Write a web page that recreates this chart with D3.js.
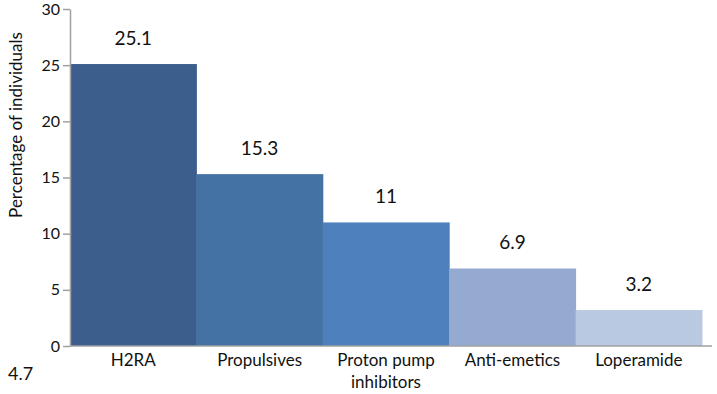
<!DOCTYPE html>
<html>
<head>
<meta charset="utf-8">
<script src="https://cdn.jsdelivr.net/npm/d3@7"></script>
<style>
  html, body { margin: 0; padding: 0; background: #fff; }
  svg { display: block; font-family: Lato, "Open Sans", sans-serif; }
</style>
</head>
<body>
<svg id="chart" width="717" height="394"></svg>
<script>
const categories = ["H2RA", "Propulsives", "Proton pump inhibitors", "Anti-emetics", "Loperamide"];
const categoryLines = [["H2RA"], ["Propulsives"], ["Proton pump", "inhibitors"], ["Anti-emetics"], ["Loperamide"]];
const values = [25.1, 15.3, 11, 6.9, 3.2];
const valueLabels = ["25.1", "15.3", "11", "6.9", "3.2"];
const barColors = ["#3b5e8c", "#4572a5", "#4e80bd", "#95aad1", "#bac9e2"];
const yTicks = [0, 5, 10, 15, 20, 25, 30];
const yTitle = "Percentage of individuals";
const footnote = "4.7";

const svg = d3.select("#chart");
const plotLeft = 70, plotRight = 702, plotTop = 9, plotBottom = 346;

const x = d3.scaleBand().domain(categories).range([plotLeft, plotRight]).padding(0);
const y = d3.scaleLinear().domain([0, 30]).range([plotBottom, plotTop]);

// bars
svg.append("g").selectAll("rect").data(values).join("rect")
  .attr("x", (d, i) => x(categories[i]))
  .attr("width", x.bandwidth() + 0.5)
  .attr("y", d => y(d))
  .attr("height", d => y(0) - y(d))
  .attr("fill", (d, i) => barColors[i]);

// value labels
svg.append("g").selectAll("text").data(values).join("text")
  .attr("x", (d, i) => x(categories[i]) + x.bandwidth() / 2)
  .attr("y", d => y(d) - 19)
  .attr("text-anchor", "middle")
  .attr("font-size", 19)
  .attr("fill", "#111")
  .text((d, i) => valueLabels[i]);

// y axis
const yAxis = svg.append("g")
  .attr("transform", `translate(${plotLeft},0)`)
  .call(d3.axisLeft(y).tickValues(yTicks).tickSize(7).tickSizeOuter(0));
yAxis.select(".domain").attr("stroke", "#a0a0a0").attr("stroke-width", 1.5);
yAxis.selectAll(".tick line").attr("stroke", "#a0a0a0").attr("stroke-width", 1.5);
yAxis.selectAll(".tick text").attr("font-size", 16).attr("fill", "#111")
  .attr("font-family", "Lato, 'Open Sans', sans-serif").attr("x", -10);

// x axis baseline
svg.append("line")
  .attr("x1", plotLeft).attr("x2", 712)
  .attr("y1", y(0)).attr("y2", y(0))
  .attr("stroke", "#a0a0a0").attr("stroke-width", 1.5);

// category labels
const cat = svg.append("g").selectAll("text").data(categoryLines).join("text")
  .attr("x", (d, i) => x(categories[i]) + x.bandwidth() / 2)
  .attr("y", 366)
  .attr("text-anchor", "middle")
  .attr("font-size", 17)
  .attr("fill", "#111");
cat.selectAll("tspan").data(d => d).join("tspan")
  .attr("x", function () { return this.parentNode.getAttribute("x"); })
  .attr("dy", (d, i) => i === 0 ? 0 : 22)
  .text(d => d);

// y axis title
svg.append("text")
  .attr("transform", "translate(22,125) rotate(-90)")
  .attr("text-anchor", "middle")
  .attr("font-size", 17)
  .attr("fill", "#111")
  .text(yTitle);

// footnote
svg.append("text")
  .attr("x", 8).attr("y", 380)
  .attr("font-size", 18)
  .attr("fill", "#111")
  .text(footnote);
</script>
</body>
</html>
